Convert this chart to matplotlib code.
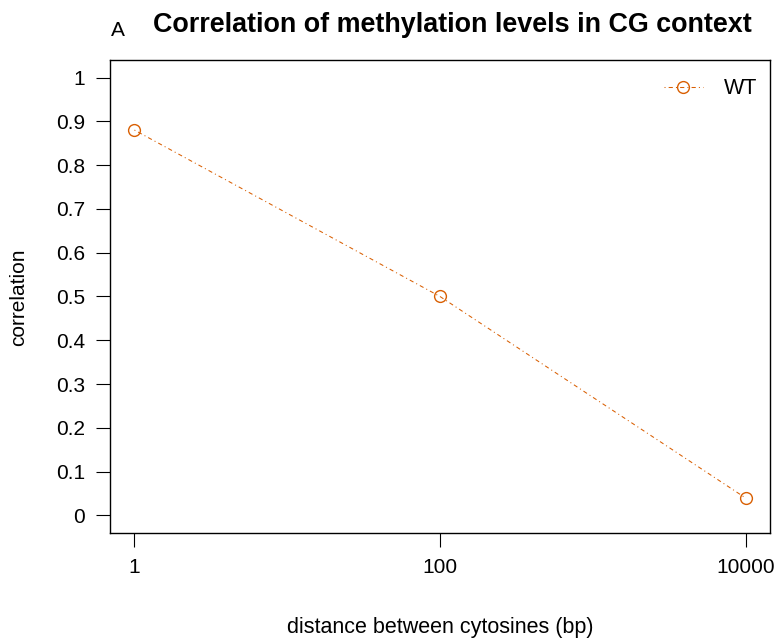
import numpy as np
import matplotlib.pyplot as plt

plt.rcParams['font.family'] = ['Liberation Sans', 'DejaVu Sans']

# data
distance = [1, 100, 10000]
correlation = [0.88, 0.50, 0.04]
yticks = [0, 0.1, 0.2, 0.3, 0.4, 0.5, 0.6, 0.7, 0.8, 0.9, 1]
ytick_labels = ['0', '0.1', '0.2', '0.3', '0.4', '0.5', '0.6', '0.7', '0.8', '0.9', '1']
xticks = [1, 100, 10000]
xtick_labels = ['1', '100', '10000']

col = '#D95F02'
fs = 15

fig = plt.figure(figsize=(7.78, 6.4), dpi=100)
ax = fig.add_axes([110 / 778, 1 - 533 / 640, 660 / 778, 473 / 640])

ax.plot(distance, correlation, color=col, lw=0.75, linestyle=(0, (1, 3, 4, 3)),
        marker='o', markersize=8.5, markerfacecolor='none', markeredgewidth=1.0,
        label='WT')

ax.set_xscale('log')
ax.set_xlim(10 ** -0.16, 10 ** 4.16)
ax.set_ylim(-0.04, 1.04)
ax.set_xticks(xticks)
ax.set_xticklabels(xtick_labels)
ax.minorticks_off()
ax.set_yticks(yticks)
ax.set_yticklabels(ytick_labels)
ax.tick_params(axis='x', length=10, width=0.8, pad=8, labelsize=fs)
ax.tick_params(axis='y', length=10, width=0.8, pad=8, labelsize=fs)
for s in ax.spines.values():
    s.set_linewidth(1.0)

fig.text(440 / 778, 1 - 627 / 640, 'distance between cytosines (bp)',
         ha='center', va='center', fontsize=15.5)
fig.text(19 / 778, 1 - 297 / 640, 'correlation', rotation=90,
         ha='center', va='center', fontsize=fs)
fig.text(452 / 778, 1 - 25 / 640, 'Correlation of methylation levels in CG context',
         ha='center', va='center', fontsize=19.4, fontweight='bold')
fig.text(118 / 778, 1 - 30 / 640, 'A', ha='center', va='center', fontsize=fs)

ax.legend(loc='upper right', bbox_to_anchor=(1.004, 0.993), frameon=False,
          fontsize=15.5, handlelength=1.8, handletextpad=1.0, borderaxespad=0.3)

fig.savefig('out.png', dpi=100)
